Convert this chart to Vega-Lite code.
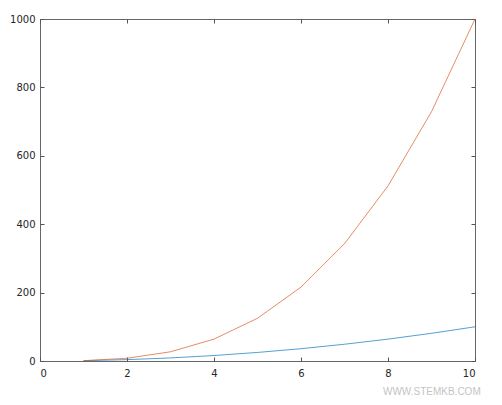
{
  "$schema": "https://vega.github.io/schema/vega-lite/v6.json",
  "width": 435,
  "height": 342,
  "padding": {"left": 9, "top": 14, "right": 5, "bottom": 5},
  "background": "white",
  "config": {
    "view": {"stroke": "#666666", "strokeWidth": 1},
    "axis": {
      "grid": false,
      "labelFont": "DejaVu Sans",
      "labelFontSize": 10,
      "labelColor": "#262626",
      "domain": false,
      "tickColor": "#555555",
      "tickSize": -4,
      "tickWidth": 1,
      "title": null
    }
  },
  "title": {
    "text": "WWW.STEMKB.COM",
    "orient": "bottom",
    "anchor": "end",
    "frame": "bounds",
    "font": "Liberation Sans",
    "fontSize": 10,
    "fontWeight": "normal",
    "color": "#c4c4c4",
    "offset": 9,
    "dx": 3
  },
  "data": {
    "values": [
      {"x": 1, "y": 1, "series": "x^2"},
      {"x": 2, "y": 4, "series": "x^2"},
      {"x": 3, "y": 9, "series": "x^2"},
      {"x": 4, "y": 16, "series": "x^2"},
      {"x": 5, "y": 25, "series": "x^2"},
      {"x": 6, "y": 36, "series": "x^2"},
      {"x": 7, "y": 49, "series": "x^2"},
      {"x": 8, "y": 64, "series": "x^2"},
      {"x": 9, "y": 81, "series": "x^2"},
      {"x": 10, "y": 100, "series": "x^2"},
      {"x": 1, "y": 1, "series": "x^3"},
      {"x": 2, "y": 8, "series": "x^3"},
      {"x": 3, "y": 27, "series": "x^3"},
      {"x": 4, "y": 64, "series": "x^3"},
      {"x": 5, "y": 125, "series": "x^3"},
      {"x": 6, "y": 216, "series": "x^3"},
      {"x": 7, "y": 343, "series": "x^3"},
      {"x": 8, "y": 512, "series": "x^3"},
      {"x": 9, "y": 729, "series": "x^3"},
      {"x": 10, "y": 1000, "series": "x^3"}
    ]
  },
  "layer": [
    {
      "mark": {"type": "line", "strokeWidth": 0.9, "opacity": 0.75},
      "encoding": {
        "x": {
          "field": "x",
          "type": "quantitative",
          "scale": {"domain": [0, 10], "nice": false},
          "axis": {"orient": "bottom", "values": [0, 2, 4, 6, 8, 10], "format": "d", "labelPadding": 11}
        },
        "y": {
          "field": "y",
          "type": "quantitative",
          "scale": {"domain": [0, 1000], "nice": false},
          "axis": {"orient": "left", "values": [0, 200, 400, 600, 800, 1000], "format": "d", "labelPadding": 9}
        },
        "color": {
          "field": "series",
          "type": "nominal",
          "scale": {"domain": ["x^2", "x^3"], "range": ["#0072BD", "#D95319"]},
          "legend": null
        }
      }
    },
    {
      "mark": {"type": "point", "opacity": 0},
      "encoding": {
        "x": {
          "field": "x",
          "type": "quantitative",
          "axis": {"orient": "top", "values": [0, 2, 4, 6, 8, 10], "labels": false}
        },
        "y": {
          "field": "y",
          "type": "quantitative",
          "axis": {"orient": "right", "values": [0, 200, 400, 600, 800, 1000], "labels": false}
        }
      }
    }
  ],
  "resolve": {"axis": {"x": "independent", "y": "independent"}}
}
